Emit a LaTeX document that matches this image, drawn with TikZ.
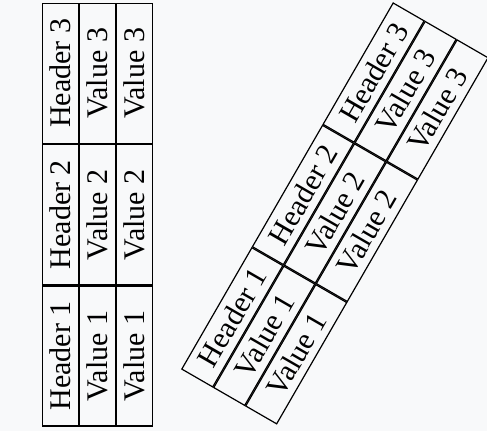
\documentclass[tikz,border=0pt]{standalone}
\usepackage{fontspec}
\setmainfont{Liberation Serif}
\usetikzlibrary{positioning}
\definecolor{pagebg}{HTML}{F8F9FA}
\newcommand{\cellwidth}[0]{46.7pt}
\newcommand{\cellheight}[0]{11.9pt}
\tikzset{tablecell/.style={rectangle, draw=black, line width=0.4pt, inner sep=0pt,
    minimum width=\cellwidth, minimum height=\cellheight}}

\begin{document}
\begin{tikzpicture}
    \fill[pagebg] (0,0) rectangle (162.33pt,-143.67pt);
    \useasboundingbox (0,0) rectangle (162.33pt,-143.67pt);
    % upright table
    \begin{scope}[shift={(14pt,-142.2pt)}, rotate=90, transform shape]
        \node[tablecell, anchor=north west] at (0,0)
            (left_h1) {Header 1};
        \node[tablecell, right=0pt of left_h1]
            (left_h2) {Header 2};
        \node[tablecell, right=0pt of left_h2]
            (left_h3) {Header 3};
        \node[tablecell, below=0pt of left_h1]
            (left_v1a) {Value 1};
        \node[tablecell, right=0pt of left_v1a]
            (left_v2a) {Value 2};
        \node[tablecell, right=0pt of left_v2a]
            (left_v3a) {Value 3};
        \node[tablecell, below=0pt of left_v1a]
            (left_v1b) {Value 1};
        \node[tablecell, right=0pt of left_v1b]
            (left_v2b) {Value 2};
        \node[tablecell, right=0pt of left_v2b]
            (left_v3b) {Value 3};
    \end{scope}
    % tilted table
    \begin{scope}[shift={(60.33pt,-123.1pt)}, rotate=60, transform shape]
        \node[tablecell, anchor=north west] at (0,0)
            (right_h1) {Header 1};
        \node[tablecell, right=0pt of right_h1]
            (right_h2) {Header 2};
        \node[tablecell, right=0pt of right_h2]
            (right_h3) {Header 3};
        \node[tablecell, below=0pt of right_h1]
            (right_v1a) {Value 1};
        \node[tablecell, right=0pt of right_v1a]
            (right_v2a) {Value 2};
        \node[tablecell, right=0pt of right_v2a]
            (right_v3a) {Value 3};
        \node[tablecell, below=0pt of right_v1a]
            (right_v1b) {Value 1};
        \node[tablecell, right=0pt of right_v1b]
            (right_v2b) {Value 2};
        \node[tablecell, right=0pt of right_v2b]
            (right_v3b) {Value 3};
    \end{scope}
\end{tikzpicture}
\end{document}
